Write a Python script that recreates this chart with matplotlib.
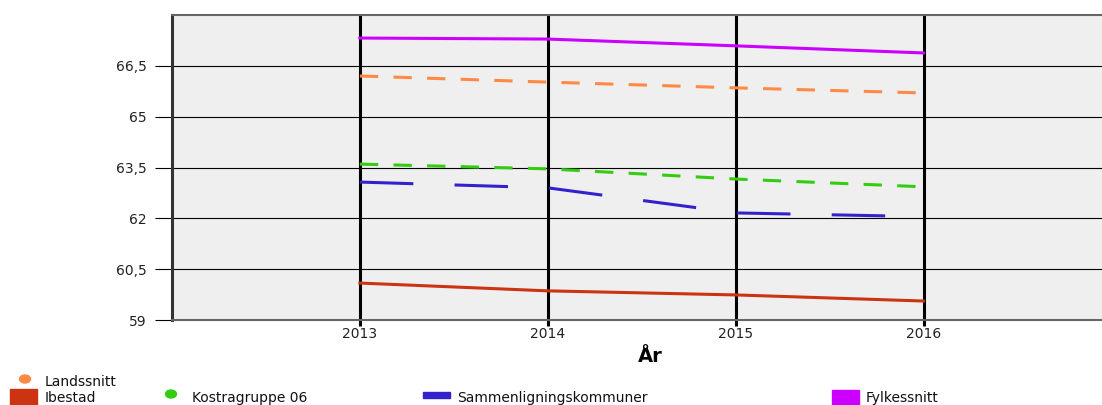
import matplotlib
matplotlib.use("Agg")
import matplotlib.pyplot as plt
from matplotlib.patches import Rectangle, Ellipse

# data
years = [2013, 2014, 2015, 2016]
ibestad = [60.09, 59.86, 59.74, 59.56]
kostragruppe = [63.60, 63.46, 63.16, 62.93]
sammenligning = [63.07, 62.90, 62.16, 62.05]
fylkessnitt = [67.32, 67.29, 67.09, 66.88]
landssnitt = [66.20, 66.02, 65.85, 65.70]

yticks = [59, 60.5, 62, 63.5, 65, 66.5]
ytick_labels = ["59", "60,5", "62", "63,5", "65", "66,5"]

c_ibestad = "#CC3311"
c_kostra = "#33CC11"
c_samm = "#3322CC"
c_fylke = "#CC00FF"
c_lands = "#FF8A45"

W, H = 1102, 405
fig = plt.figure(figsize=(W / 100, H / 100), dpi=100)
ax = fig.add_axes([172 / W, 1 - 320 / H, 1 - 172 / W, 305 / H])
ax.set_facecolor("#EFEFEF")

# grid
for y in yticks:
    ax.axhline(y, color="black", lw=0.8, zorder=1)
for x in years:
    ax.axvline(x, color="black", lw=2.2, zorder=1)

ax.plot(years, fylkessnitt, color=c_fylke, lw=2.2, zorder=3)
ax.plot(years, landssnitt, color=c_lands, lw=2.2, dashes=(6, 5), zorder=3)
ax.plot(years, kostragruppe, color=c_kostra, lw=2.2, dashes=(6, 5), zorder=3)
ax.plot(years, sammenligning, color=c_samm, lw=2.2, dashes=(17.5, 13.5), zorder=3)
ax.plot(years, ibestad, color=c_ibestad, lw=2.2, zorder=3)

ax.set_xlim(2012, 2016.95)
ax.set_ylim(59, 68)
ax.set_xticks(years)
ax.set_xticklabels([str(y) for y in years])
ax.set_yticks(yticks)
ax.set_yticklabels(ytick_labels)
ax.tick_params(axis="y", length=12, width=0.8, color="black", labelsize=10,
               labelcolor="#222222", pad=6)
ax.tick_params(axis="x", length=4, width=2.2, color="black", labelsize=10,
               labelcolor="#222222", pad=1)

ax.spines["left"].set_color("#333333")
ax.spines["left"].set_linewidth(2.2)
ax.spines["top"].set_color("#666666")
ax.spines["top"].set_linewidth(1.5)
ax.spines["bottom"].set_color("#666666")
ax.spines["bottom"].set_linewidth(1.5)
ax.spines["right"].set_visible(False)

fig.text(650 / W, 1 - 356 / H, "År", ha="center", va="center",
         fontsize=14, fontweight="bold")

# legend drawn by hand to mimic the two-row layout
def px(x, y):
    return x / W, 1 - y / H

def dot(x, y, color):
    fig.add_artist(Ellipse(px(x, y), 11 / W, 8 / H, color=color,
                           transform=fig.transFigure))

def box(x0, y0, x1, y1, color):
    fig.add_artist(Rectangle((x0 / W, 1 - y1 / H), (x1 - x0) / W, (y1 - y0) / H,
                             color=color, transform=fig.transFigure))

def label(x, y, text):
    fig.text(*px(x, y), text, ha="left", va="center", fontsize=10,
             color="#111111")

dot(25, 379, c_lands)
label(45, 382, "Landssnitt")

box(10, 389, 37, 405, c_ibestad)
label(45, 398, "Ibestad")
dot(171, 394, c_kostra)
label(192, 398, "Kostragruppe 06")
box(423, 392, 450, 398, c_samm)
label(457, 398, "Sammenligningskommuner")
box(832, 390, 859, 405, c_fylke)
label(866, 398, "Fylkessnitt")

fig.savefig("out.png", dpi=100)
